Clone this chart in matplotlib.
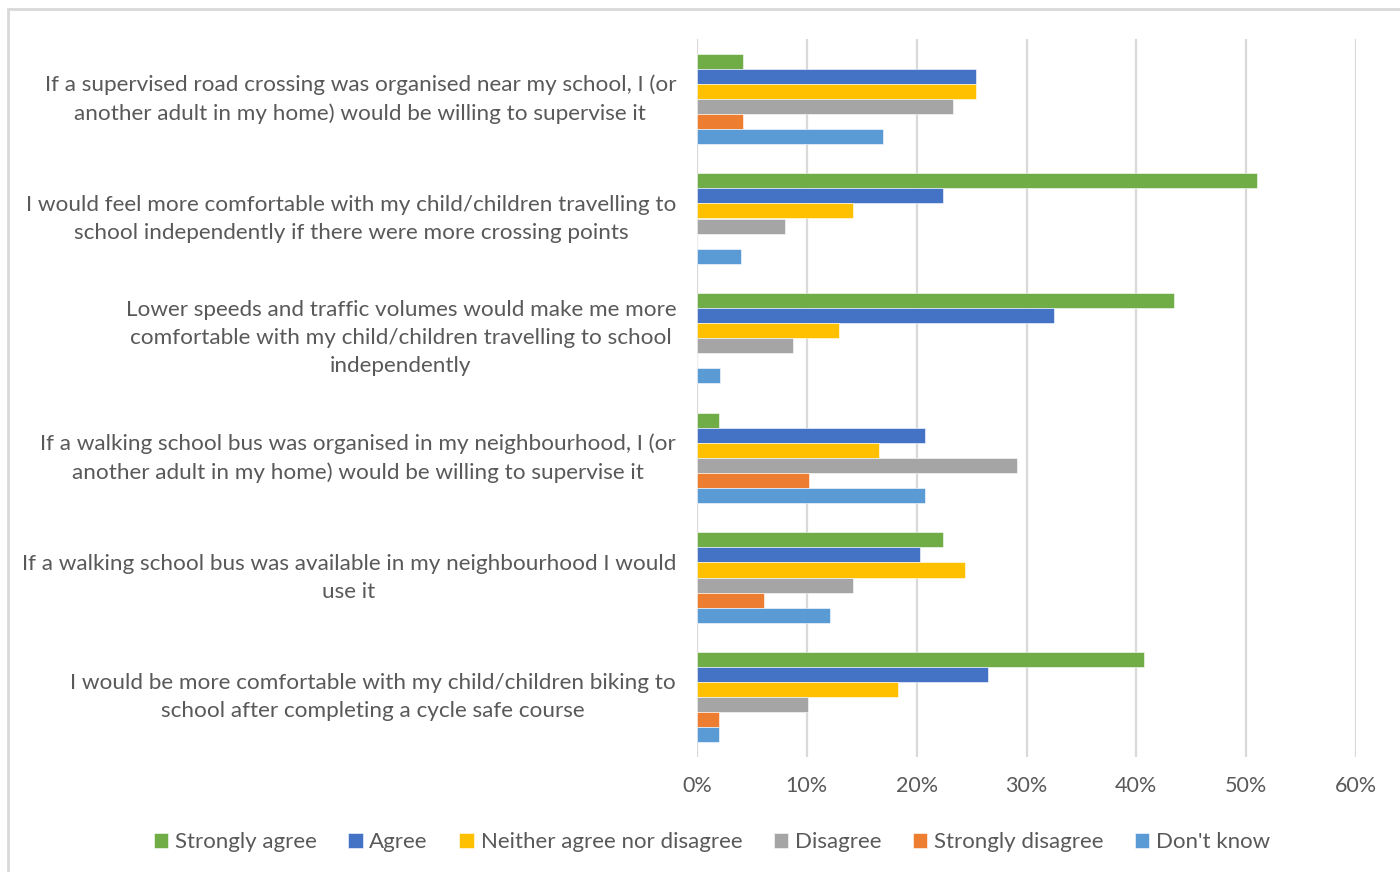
import numpy as np
import matplotlib
matplotlib.use('Agg')
from matplotlib import pyplot as plt
from matplotlib.patches import Rectangle
from matplotlib.ticker import PercentFormatter

# Survey statements (top to bottom) and the share of each response
statements = [
    'If a supervised road crossing was organised near my school, I (or\nanother adult in my home) would be willing to supervise it',
    'I would feel more comfortable with my child/children travelling to\nschool independently if there were more crossing points',
    'Lower speeds and traffic volumes would make me more\ncomfortable with my child/children travelling to school\nindependently',
    'If a walking school bus was organised in my neighbourhood, I (or\nanother adult in my home) would be willing to supervise it',
    'If a walking school bus was available in my neighbourhood I would\nuse it',
    'I would be more comfortable with my child/children biking to\nschool after completing a cycle safe course',
]
responses = ['Strongly agree', 'Agree', 'Neither agree nor disagree', 'Disagree',
             'Strongly disagree', "Don't know"]

strongly_agree = [4.2, 51.0, 43.4, 2.0, 22.4, 40.7]
agree = [25.4, 22.4, 32.5, 20.8, 20.3, 26.5]
neither = [25.4, 14.2, 12.9, 16.6, 24.4, 18.3]
disagree = [23.3, 8.0, 8.7, 29.1, 14.2, 10.1]
strongly_disagree = [4.2, 0.0, 0.0, 10.2, 6.1, 2.0]
dont_know = [16.9, 4.0, 2.1, 20.8, 12.1, 2.0]

series = [strongly_agree, agree, neither, disagree, strongly_disagree, dont_know]
colors = ['#70AD47', '#4472C4', '#FFC000', '#A5A5A5', '#ED7D31', '#5B9BD5']

plt.rcParams['font.family'] = ['Lato', 'DejaVu Sans']
text_grey = '#595959'

fig = plt.figure(figsize=(14, 8.72), dpi=100)
ax = fig.add_axes([697 / 1400, 1 - 757 / 872, 659 / 1400, 718 / 872])

# Outer chart frame (cropped at the right and bottom like the original)
fig.patches.append(Rectangle((8 / 1400, -0.1), 1.2, 1 - 9 / 872 + 0.1, transform=fig.transFigure,
                             fill=False, edgecolor='#D9D9D9', linewidth=2))

y = np.arange(len(statements))
bar_h = 0.1255
for i, (vals, col, name) in enumerate(zip(series, colors, responses)):
    offset = (i - 2.5) * bar_h
    ax.barh(y + offset, vals, height=bar_h, color=col, label=name, zorder=3,
            edgecolor='white', linewidth=0.4)

ax.set_xlim(0, 60)
ax.set_ylim(len(statements) - 0.5, -0.5)
ax.set_xticks(np.arange(0, 61, 10))
ax.xaxis.set_major_formatter(PercentFormatter(decimals=0))
ax.set_yticks(y)
ax.set_yticklabels(statements, multialignment='center', linespacing=1.5, va='center', fontsize=16.2)

ax.grid(axis='x', color='#D9D9D9', linewidth=1.6, zorder=0)
for s in ax.spines.values():
    s.set_visible(False)
ax.tick_params(axis='both', length=0, colors=text_grey)
ax.tick_params(axis='x', labelsize=15.5, pad=14)
ax.tick_params(axis='y', pad=15)

leg = fig.legend(loc='center', bbox_to_anchor=(712 / 1400, 1 - 842 / 872), ncol=6, frameon=False,
                 fontsize=16, handlelength=0.65, handleheight=0.65, handletextpad=0.3,
                 columnspacing=1.42, labelcolor=text_grey)

plt.savefig('out.png', dpi=100)
